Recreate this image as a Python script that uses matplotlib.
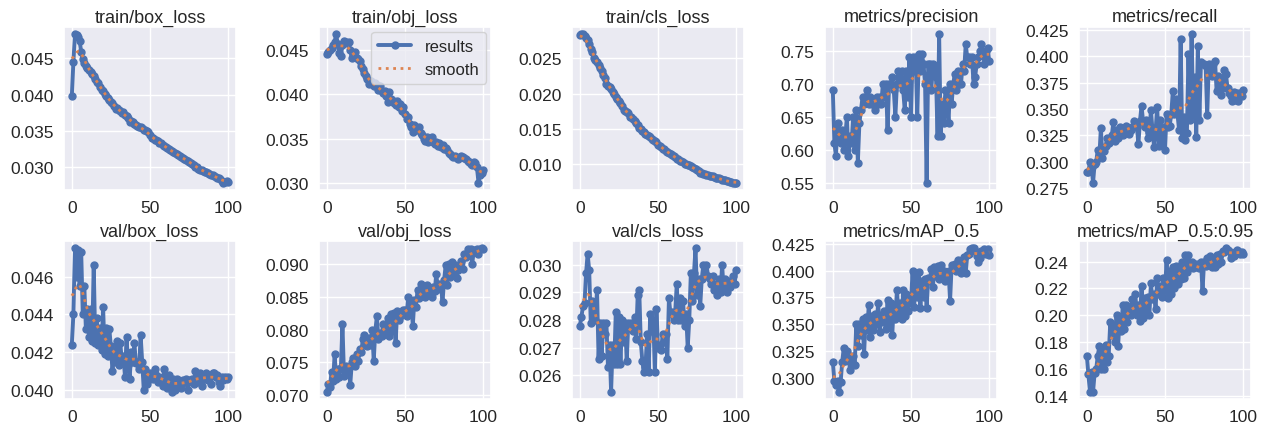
import numpy as np
import matplotlib.pyplot as plt
from matplotlib.ticker import MultipleLocator
import seaborn as sns

plt.switch_backend('Agg')

epochs = list(range(101))

titles = ['train/box_loss', 'train/obj_loss', 'train/cls_loss', 'metrics/precision', 'metrics/recall',
          'val/box_loss', 'val/obj_loss', 'val/cls_loss', 'metrics/mAP_0.5', 'metrics/mAP_0.5:0.95']

train_box = [0.0398, 0.0445, 0.0483, 0.0482, 0.0479, 0.0474, 0.0459, 0.0449, 0.0444, 0.0440,
             0.0437, 0.0434, 0.0431, 0.0428, 0.0426, 0.0421, 0.0418, 0.0416, 0.0411, 0.0407,
             0.0405, 0.0401, 0.0398, 0.0395, 0.0393, 0.0390, 0.0388, 0.0385, 0.0381, 0.0382,
             0.0379, 0.0377, 0.0375, 0.0376, 0.0372, 0.0371, 0.0368, 0.0362, 0.0364, 0.0362,
             0.0360, 0.0358, 0.0357, 0.0356, 0.0355, 0.0354, 0.0352, 0.0351, 0.0350, 0.0348,
             0.0345, 0.0340, 0.0341, 0.0338, 0.0337, 0.0336, 0.0334, 0.0333, 0.0331, 0.0330,
             0.0328, 0.0326, 0.0325, 0.0324, 0.0322, 0.0321, 0.0320, 0.0318, 0.0317, 0.0315,
             0.0314, 0.0313, 0.0312, 0.0310, 0.0309, 0.0308, 0.0306, 0.0305, 0.0303, 0.0301,
             0.0300, 0.0298, 0.0297, 0.0296, 0.0295, 0.0294, 0.0293, 0.0292, 0.0291, 0.0290,
             0.0289, 0.0288, 0.0287, 0.0286, 0.0285, 0.0284, 0.0281, 0.0279, 0.0280, 0.0281,
             0.0280]

train_obj = [0.0445, 0.0447, 0.0450, 0.0452, 0.0455, 0.0459, 0.0467, 0.0456, 0.0446, 0.0443,
             0.0455, 0.0460, 0.0459, 0.0457, 0.0458, 0.0449, 0.0441, 0.0445, 0.0447, 0.0441,
             0.0439, 0.0437, 0.0432, 0.0428, 0.0424, 0.0420, 0.0417, 0.0412, 0.0415, 0.0411,
             0.0409, 0.0413, 0.0410, 0.0405, 0.0409, 0.0404, 0.0401, 0.0404, 0.0398, 0.0391,
             0.0403, 0.0395, 0.0393, 0.0390, 0.0388, 0.0392, 0.0386, 0.0389, 0.0381, 0.0386,
             0.0378, 0.0372, 0.0374, 0.0367, 0.0363, 0.0358, 0.0365, 0.0362, 0.0360, 0.0363,
             0.0356, 0.0354, 0.0350, 0.0348, 0.0352, 0.0346, 0.0349, 0.0352, 0.0347, 0.0344,
             0.0346, 0.0342, 0.0345, 0.0341, 0.0343, 0.0339, 0.0340, 0.0337, 0.0334, 0.0333,
             0.0331, 0.0330, 0.0331, 0.0329, 0.0327, 0.0330, 0.0331, 0.0330, 0.0328, 0.0327,
             0.0325, 0.0324, 0.0322, 0.0321, 0.0324, 0.0323, 0.0318, 0.0301, 0.0310, 0.0312,
             0.0315]

train_cls = [0.0283, 0.0284, 0.0284, 0.0282, 0.0279, 0.0276, 0.0270, 0.0264, 0.0259, 0.0251,
             0.0248, 0.0245, 0.0241, 0.0237, 0.0232, 0.0226, 0.0222, 0.0214, 0.0211, 0.0209,
             0.0206, 0.0203, 0.0199, 0.0196, 0.0193, 0.0190, 0.0187, 0.0183, 0.0177, 0.0176,
             0.0174, 0.0172, 0.0167, 0.0167, 0.0164, 0.0161, 0.0158, 0.0156, 0.0152, 0.0150,
             0.0147, 0.0145, 0.0143, 0.0141, 0.0140, 0.0138, 0.0136, 0.0134, 0.0133, 0.0131,
             0.0127, 0.0126, 0.0125, 0.0122, 0.0121, 0.0119, 0.0117, 0.0116, 0.0114, 0.0113,
             0.0112, 0.0110, 0.0108, 0.0107, 0.0105, 0.0104, 0.0103, 0.0101, 0.0100, 0.0099,
             0.0099, 0.0097, 0.0096, 0.0094, 0.0093, 0.0092, 0.0090, 0.0088, 0.0087, 0.0086,
             0.0086, 0.0085, 0.0085, 0.0084, 0.0083, 0.0083, 0.0082, 0.0081, 0.0080, 0.0080,
             0.0079, 0.0078, 0.0077, 0.0077, 0.0076, 0.0076, 0.0075, 0.0075, 0.0074, 0.0074,
             0.0074]

precision = [0.690, 0.610, 0.590, 0.640, 0.620, 0.610, 0.630, 0.600, 0.620, 0.650,
             0.590, 0.620, 0.610, 0.650, 0.600, 0.660, 0.580, 0.640, 0.660, 0.680,
             0.670, 0.680, 0.690, 0.670, 0.680, 0.670, 0.670, 0.660, 0.680, 0.670,
             0.680, 0.670, 0.700, 0.680, 0.700, 0.630, 0.700, 0.700, 0.710, 0.690,
             0.650, 0.700, 0.720, 0.700, 0.720, 0.690, 0.660, 0.720, 0.680, 0.740,
             0.650, 0.740, 0.720, 0.740, 0.650, 0.745, 0.720, 0.745, 0.730, 0.700,
             0.550, 0.730, 0.730, 0.690, 0.730, 0.725, 0.710, 0.620, 0.775, 0.620,
             0.670, 0.640, 0.690, 0.680, 0.640, 0.700, 0.670, 0.700, 0.715, 0.690,
             0.720, 0.700, 0.700, 0.730, 0.720, 0.760, 0.740, 0.740, 0.730, 0.740,
             0.700, 0.710, 0.730, 0.740, 0.750, 0.760, 0.750, 0.730, 0.750, 0.755,
             0.735]

recall = [0.290, 0.290, 0.300, 0.295, 0.280, 0.298, 0.300, 0.311, 0.305, 0.332,
          0.303, 0.310, 0.315, 0.322, 0.318, 0.320, 0.325, 0.338, 0.320, 0.330,
          0.322, 0.333, 0.328, 0.325, 0.331, 0.334, 0.333, 0.326, 0.330, 0.333,
          0.339, 0.337, 0.333, 0.317, 0.339, 0.353, 0.338, 0.333, 0.340, 0.322,
          0.328, 0.349, 0.330, 0.314, 0.330, 0.352, 0.315, 0.340, 0.318, 0.333,
          0.311, 0.345, 0.333, 0.334, 0.345, 0.367, 0.345, 0.360, 0.345, 0.330,
          0.417, 0.322, 0.342, 0.321, 0.327, 0.402, 0.340, 0.421, 0.345, 0.380,
          0.323, 0.410, 0.340, 0.395, 0.393, 0.393, 0.391, 0.344, 0.393, 0.388,
          0.381, 0.393, 0.396, 0.367, 0.381, 0.378, 0.363, 0.370, 0.387, 0.383,
          0.370, 0.365, 0.362, 0.358, 0.366, 0.359, 0.365, 0.358, 0.365, 0.362,
          0.368]

val_box = [0.0424, 0.0440, 0.0475, 0.0460, 0.0474, 0.0455, 0.0473, 0.0440, 0.0455, 0.0432,
           0.0443, 0.0428, 0.0443, 0.0426, 0.0466, 0.0425, 0.0438, 0.0424, 0.0433, 0.0421,
           0.0444, 0.0419, 0.0433, 0.0418, 0.0432, 0.0423, 0.0410, 0.0420, 0.0415, 0.0426,
           0.0413, 0.0425, 0.0415, 0.0418, 0.0407, 0.0428, 0.0413, 0.0406, 0.0420, 0.0415,
           0.0425, 0.0414, 0.0415, 0.0411, 0.0429, 0.0415, 0.0400, 0.0411, 0.0403, 0.0405,
           0.0409, 0.0408, 0.0406, 0.0411, 0.0408, 0.0404, 0.0407, 0.0406, 0.0402, 0.0411,
           0.0405, 0.0401, 0.0408, 0.0403, 0.0399, 0.0406, 0.0400, 0.0406, 0.0405, 0.0403,
           0.0401, 0.0405, 0.0404, 0.0406, 0.0400, 0.0405, 0.0404, 0.0406, 0.0403, 0.0410,
           0.0406, 0.0404, 0.0409, 0.0402, 0.0408, 0.0406, 0.0409, 0.0405, 0.0408, 0.0403,
           0.0409, 0.0409, 0.0407, 0.0408, 0.0404, 0.0402, 0.0407, 0.0405, 0.0407, 0.0406,
           0.0407]

val_obj = [0.0705, 0.0717, 0.0712, 0.0735, 0.0722, 0.0762, 0.0725, 0.0740, 0.0728, 0.0742,
           0.0808, 0.0729, 0.0745, 0.0738, 0.0742, 0.0716, 0.0750, 0.0757, 0.0745, 0.0762,
           0.0752, 0.0770, 0.0765, 0.0785, 0.0792, 0.0780, 0.0775, 0.0787, 0.0777, 0.0800,
           0.0752, 0.0798, 0.0820, 0.0786, 0.0795, 0.0790, 0.0808, 0.0800, 0.0796, 0.0818,
           0.0790, 0.0823, 0.0797, 0.0825, 0.0780, 0.0828, 0.0815, 0.0825, 0.0822, 0.0830,
           0.0829, 0.0820, 0.0850, 0.0826, 0.0840, 0.0806, 0.0845, 0.0835, 0.0860, 0.0848,
           0.0870, 0.0855, 0.0866, 0.0850, 0.0868, 0.0855, 0.0862, 0.0849, 0.0865, 0.0858,
           0.0885, 0.0862, 0.0870, 0.0868, 0.0842, 0.0875, 0.0898, 0.0868, 0.0900, 0.0880,
           0.0903, 0.0885, 0.0898, 0.0879, 0.0890, 0.0898, 0.0905, 0.0892, 0.0915, 0.0910,
           0.0922, 0.0918, 0.0922, 0.0900, 0.0921, 0.0918, 0.0923, 0.0915, 0.0922, 0.0924,
           0.0923]

val_cls = [0.0278, 0.0281, 0.0285, 0.0286, 0.0297, 0.0304, 0.0298, 0.0279, 0.0287, 0.0282,
           0.0280, 0.0291, 0.0266, 0.0279, 0.0267, 0.0279, 0.0275, 0.0279, 0.0263, 0.0271,
           0.0254, 0.0271, 0.0264, 0.0283, 0.0264, 0.0281, 0.0264, 0.0280, 0.0272, 0.0279,
           0.0265, 0.0279, 0.0277, 0.0279, 0.0276, 0.0281, 0.0273, 0.0289, 0.0291, 0.0272,
           0.0265, 0.0261, 0.0263, 0.0275, 0.0261, 0.0282, 0.0276, 0.0280, 0.0261, 0.0284,
           0.0270, 0.0271, 0.0269, 0.0275, 0.0272, 0.0275, 0.0266, 0.0288, 0.0282, 0.0283,
           0.0280, 0.0283, 0.0293, 0.0280, 0.0288, 0.0280, 0.0287, 0.0278, 0.0282, 0.0270,
           0.0280, 0.0297, 0.0287, 0.0297, 0.0306, 0.0289, 0.0295, 0.0285, 0.0295, 0.0300,
           0.0296, 0.0300, 0.0296, 0.0295, 0.0293, 0.0296, 0.0291, 0.0293, 0.0289, 0.0295,
           0.0290, 0.0300, 0.0291, 0.0295, 0.0290, 0.0294, 0.0292, 0.0293, 0.0296, 0.0293,
           0.0298]

map50 = [0.315, 0.297, 0.293, 0.297, 0.287, 0.296, 0.315, 0.328, 0.316, 0.325,
         0.321, 0.307, 0.316, 0.320, 0.312, 0.350, 0.330, 0.350, 0.340, 0.355,
         0.322, 0.357, 0.345, 0.368, 0.338, 0.358, 0.345, 0.360, 0.350, 0.370,
         0.343, 0.359, 0.352, 0.362, 0.346, 0.373, 0.348, 0.370, 0.340, 0.368,
         0.355, 0.382, 0.360, 0.370, 0.355, 0.382, 0.358, 0.378, 0.362, 0.376,
         0.370, 0.400, 0.366, 0.396, 0.375, 0.399, 0.365, 0.390, 0.375, 0.392,
         0.365, 0.393, 0.390, 0.402, 0.385, 0.403, 0.395, 0.404, 0.392, 0.405,
         0.398, 0.400, 0.390, 0.396, 0.400, 0.372, 0.405, 0.402, 0.406, 0.400,
         0.410, 0.403, 0.398, 0.407, 0.413, 0.398, 0.415, 0.416, 0.420, 0.421,
         0.421, 0.418, 0.414, 0.408, 0.412, 0.418, 0.418, 0.420, 0.416, 0.420,
         0.415]

map50_95 = [0.170, 0.156, 0.143, 0.158, 0.143, 0.157, 0.160, 0.170, 0.177, 0.160,
            0.175, 0.160, 0.178, 0.165, 0.170, 0.195, 0.185, 0.193, 0.180, 0.200,
            0.177, 0.197, 0.188, 0.208, 0.190, 0.208, 0.195, 0.205, 0.200, 0.212,
            0.203, 0.216, 0.200, 0.208, 0.196, 0.222, 0.198, 0.213, 0.203, 0.214,
            0.200, 0.224, 0.212, 0.216, 0.205, 0.228, 0.216, 0.222, 0.214, 0.228,
            0.218, 0.241, 0.213, 0.233, 0.216, 0.236, 0.220, 0.237, 0.223, 0.232,
            0.227, 0.240, 0.228, 0.245, 0.232, 0.245, 0.236, 0.240, 0.235, 0.238,
            0.236, 0.238, 0.235, 0.240, 0.218, 0.240, 0.237, 0.243, 0.238, 0.244,
            0.236, 0.242, 0.236, 0.245, 0.238, 0.246, 0.240, 0.248, 0.247, 0.250,
            0.249, 0.248, 0.243, 0.246, 0.244, 0.247, 0.249, 0.248, 0.246, 0.247,
            0.246]

series = [train_box, train_obj, train_cls, precision, recall,
          val_box, val_obj, val_cls, map50, map50_95]

# y tick spacing per panel
ystep = [0.005, 0.005, 0.005, 0.05, 0.025, 0.002, 0.005, 0.001, 0.025, 0.02]


def gauss_smooth(y, sigma=3):
    # same idea as gaussian_filter1d, reflect padding
    r = int(4 * sigma + 0.5)
    k = np.exp(-0.5 * (np.arange(-r, r + 1) / sigma) ** 2)
    k /= k.sum()
    yp = np.pad(np.asarray(y, float), r, mode='symmetric')
    return np.convolve(yp, k, mode='valid')


sns.set_theme(style='darkgrid')
plt.rcParams['font.family'] = ['Liberation Sans', 'DejaVu Sans']

fig = plt.figure(figsize=(12.61, 4.27), dpi=100)
lefts = [64, 319, 572, 825, 1079]
rows = [(191, 163), (400, 158)]  # bottom px from top, height px
W, H = 1261, 427

for i, (t, y) in enumerate(zip(titles, series)):
    r, c = divmod(i, 5)
    bot, h = rows[r]
    ax = fig.add_axes([lefts[c] / W, 1 - bot / H, 172 / W, h / H])
    ax.plot(epochs, y, marker='.', label='results', linewidth=2.8, markersize=10, color='#4C72B0')
    ax.plot(epochs, gauss_smooth(y), ':', label='smooth', linewidth=2, color='#DD8452')
    ax.set_title(t, fontsize=13, pad=4)
    ax.set_xticks([0, 50, 100])
    ax.yaxis.set_major_locator(MultipleLocator(ystep[i]))
    ax.tick_params(labelsize=12.5, pad=1.5)
    if i == 1:
        ax.legend(fontsize=12, loc='upper right', borderaxespad=0.3)

fig.savefig('out.png', dpi=100)
plt.close(fig)
